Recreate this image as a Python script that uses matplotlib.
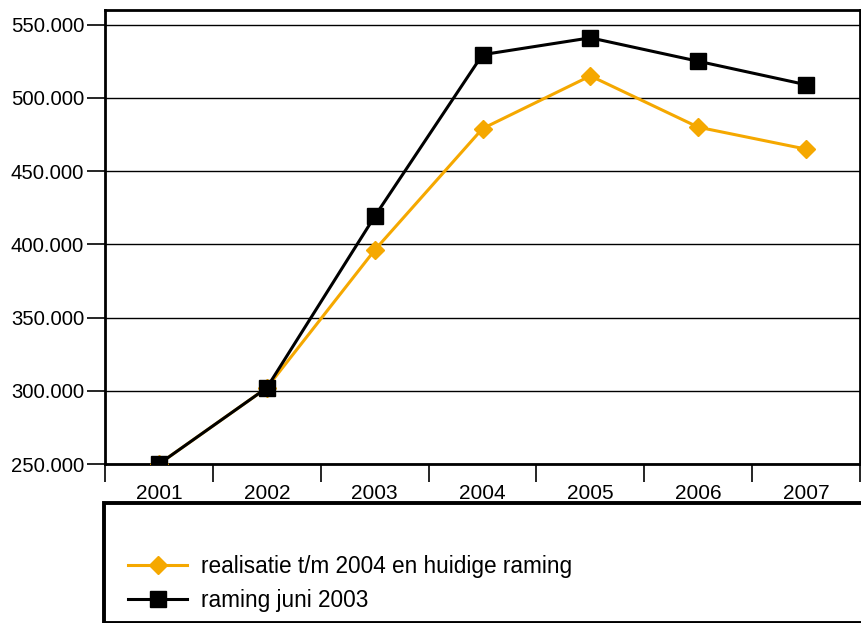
import matplotlib.pyplot as plt
from matplotlib.patches import Rectangle
from matplotlib.lines import Line2D
from matplotlib.ticker import FuncFormatter, FixedLocator

plt.rcParams['font.family'] = ['Liberation Sans', 'DejaVu Sans']

years = ['2001', '2002', '2003', '2004', '2005', '2006', '2007']
realisatie = [250000, 302000, 396000, 479000, 515000, 480000, 465000]
raming_2003 = [250000, 302000, 419000, 529500, 541000, 525000, 509000]
yticks = [250000, 300000, 350000, 400000, 450000, 500000, 550000]

orange = '#f5a800'

fig = plt.figure(figsize=(8.61, 6.23), dpi=100)
ax = fig.add_axes([105 / 861, 1 - 464 / 623, 755 / 861, 454 / 623])

x = list(range(len(years)))
ax.plot(x, realisatie, color=orange, lw=2.2, marker='D', ms=9, zorder=3)
ax.plot(x, raming_2003, color='black', lw=2.2, marker='s', ms=11.5, zorder=4)

ax.set_xlim(-0.5, len(years) - 0.5)
ax.set_ylim(250000, 560000)
ax.set_yticks(yticks)
ax.yaxis.set_major_formatter(FuncFormatter(lambda v, p: f'{int(v):,}'.replace(',', '.')))
ax.grid(axis='y', color='black', lw=1)
ax.set_axisbelow(True)

# year labels centred, ticks at the category boundaries
ax.xaxis.set_major_locator(FixedLocator([i - 0.5 for i in range(len(years) + 1)]))
ax.set_xticklabels([])
ax.tick_params(axis='x', length=13, width=1.2, color='black')
ax.tick_params(axis='y', length=13, width=1.2, labelsize=14.6, pad=2)
for i, yr in enumerate(years):
    ax.text(i, -0.045, yr, transform=ax.get_xaxis_transform(), ha='center', va='top', fontsize=15)

for s in ax.spines.values():
    s.set_linewidth(2)

# legend box
fig.patches.append(Rectangle((104 / 861, 0), 760 / 861, 120 / 623, transform=fig.transFigure,
                             fill=False, edgecolor='black', lw=2.8))
handles = [Line2D([], [], color=orange, lw=2.2, marker='D', ms=9),
           Line2D([], [], color='black', lw=2.2, marker='s', ms=11.5)]
fig.legend(handles, ['realisatie t/m 2004 en huidige raming', 'raming juni 2003'],
           loc='upper left', bbox_to_anchor=(117 / 861, 1 - 544 / 623), frameon=False,
           fontsize=16.3, handlelength=2.6, handletextpad=0.6, labelspacing=0.45, borderpad=0)

fig.savefig('out.png', dpi=100)
